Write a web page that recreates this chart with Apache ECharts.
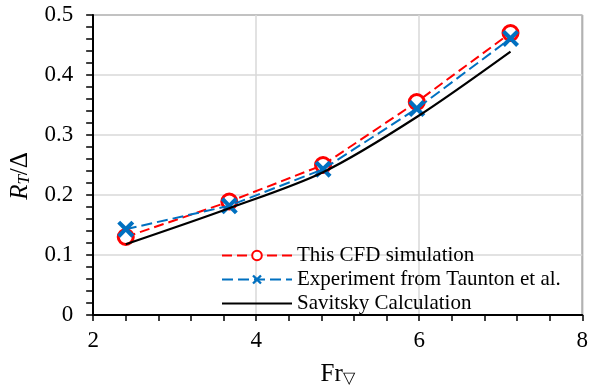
<!DOCTYPE html>
<html><head><meta charset="utf-8">
<script src="https://cdn.jsdelivr.net/npm/echarts@6/dist/echarts.min.js"></script>
<style>html,body{margin:0;padding:0;background:#fff}#c{width:591px;height:392px}</style>
</head><body><div id="c"></div>
<script>
var fr = [2.40, 3.67, 4.82, 5.97, 7.12];
var cfd = [0.130, 0.189, 0.250, 0.355, 0.470];
var experiment = [0.143, 0.182, 0.243, 0.344, 0.461];
var savitsky = [0.118, 0.178, 0.238, 0.330, 0.439];
var names = ['This CFD simulation', 'Experiment from Taunton et al.', 'Savitsky Calculation'];

function pairs(xs, ys){ return xs.map(function(x,i){return [x, ys[i]];}); }
var F = 'Liberation Serif, Times New Roman, serif';
var xMark = 'path://M0,1.7 L1.7,0 L5,3.3 L8.3,0 L10,1.7 L6.7,5 L10,8.3 L8.3,10 L5,6.7 L1.7,10 L0,8.3 L3.3,5 Z';

var chart = echarts.init(document.getElementById('c'), null, {renderer:'canvas'});
chart.setOption({
  animation:false,
  textStyle:{fontFamily:F, color:'#000'},
  grid:{left:93, right:4, top:15, bottom:76, show:true, borderColor:'#000', borderWidth:1, backgroundColor:'transparent'},
  legend:{
    left:216, top:240, orient:'vertical', itemWidth:70, itemHeight:12, itemGap:3,
    textStyle:{fontFamily:F, fontSize:21, color:'#000', lineHeight:21},
    data:[names[0], names[1], {name:names[2], itemStyle:{opacity:0}}]
  },
  xAxis:{
    type:'value', min:2, max:8, interval:2,
    name:'{a|Fr}{b|▽}', nameLocation:'middle', nameGap:46,
    nameTextStyle:{rich:{a:{fontFamily:F, fontSize:25, color:'#000'}, b:{fontFamily:F, fontSize:16, color:'#000', padding:[10,0,0,0]}}},
    axisLine:{lineStyle:{color:'#000', width:2}},
    axisTick:{show:true, length:6, lineStyle:{color:'#000', width:1.5}},
    minorTick:{show:true, splitNumber:5, length:6, lineStyle:{color:'#000', width:1.5}},
    axisLabel:{fontFamily:F, fontSize:23, color:'#000', margin:14},
    splitLine:{show:true, lineStyle:{color:'#d9d9d9', width:1.5}}
  },
  yAxis:{
    type:'value', min:0, max:0.5, interval:0.1,
    name:'{r|R}{t|T}{r2|/Δ}', nameLocation:'middle', nameGap:50,
    nameTextStyle:{padding:[0,0,0,-22], rich:{r:{fontFamily:F, fontSize:25, fontStyle:'italic', color:'#000'}, t:{fontFamily:F, fontSize:17, fontStyle:'italic', color:'#000', padding:[9,0,0,0]}, r2:{fontFamily:F, fontSize:25, color:'#000'}}},
    axisLine:{show:true, lineStyle:{color:'#000', width:2}},
    axisTick:{show:true, length:7, lineStyle:{color:'#000', width:1.5}},
    minorTick:{show:true, splitNumber:5, length:7, lineStyle:{color:'#000', width:1.5}},
    axisLabel:{fontFamily:F, fontSize:23, color:'#000', margin:20},
    splitLine:{show:true, lineStyle:{color:'#d9d9d9', width:1.5}}
  },
  series:[
    {name:names[0], type:'line', data:pairs(fr, cfd), symbol:'circle', symbolSize:15,
     itemStyle:{color:'#fff', borderColor:'#ff0000', borderWidth:3},
     lineStyle:{color:'#ff0000', width:2, type:[10,5]}, z:2},
    {name:names[1], type:'line', data:pairs(fr, experiment), symbol:xMark, symbolSize:17,
     itemStyle:{color:'#0070c0', borderWidth:0},
     lineStyle:{color:'#0070c0', width:2, type:[11,5]}, z:3},
    {name:names[2], type:'line', data:pairs(fr, savitsky), symbol:'none', smooth:0.3,
     itemStyle:{color:'#000'},
     lineStyle:{color:'#000', width:2.2}, z:4}
  ]
});
</script></body></html>
